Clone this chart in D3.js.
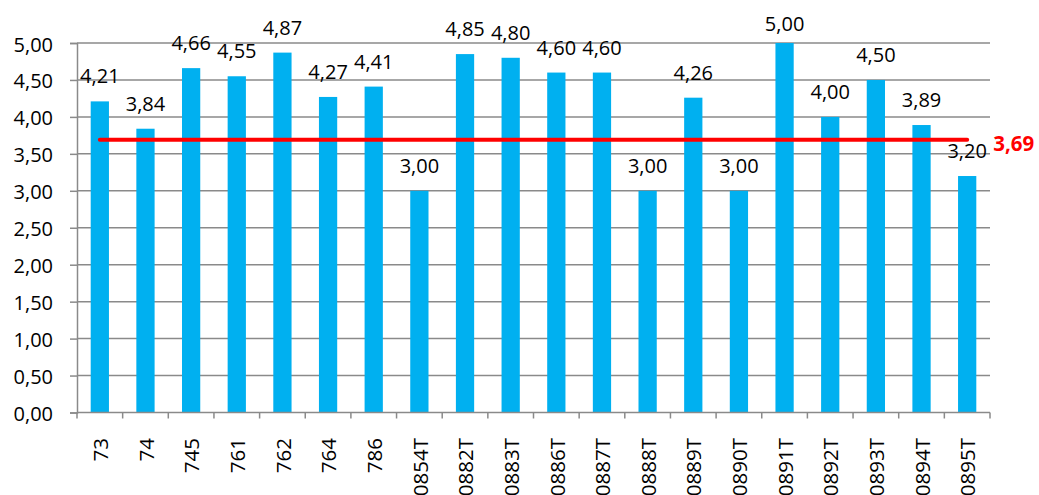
<!DOCTYPE html>
<html>
<head>
<meta charset="utf-8">
<script src="https://cdn.jsdelivr.net/npm/d3@7"></script>
<style>
  html, body { margin: 0; padding: 0; background: #fff; }
  svg { display: block; }
  text { font-family: "Open Sans", "Noto Sans", sans-serif; }
</style>
</head>
<body>
<svg id="chart" width="1039" height="495"></svg>
<script>
const categories = ["73","74","745","761","762","764","786","0854T","0882T","0883T","0886T","0887T","0888T","0889T","0890T","0891T","0892T","0893T","0894T","0895T"];
const values = [4.21,3.84,4.66,4.55,4.87,4.27,4.41,3.00,4.85,4.80,4.60,4.60,3.00,4.26,3.00,5.00,4.00,4.50,3.89,3.20];
const average = 3.69;
const yTicks = [0,0.5,1,1.5,2,2.5,3,3.5,4,4.5,5];

const fmt = v => d3.format(".2f")(v).replace(".", ",");

const svg = d3.select("#chart");
const plotLeft = 77, plotRight = 990, plotTop = 43, plotBottom = 412.5;

const x = d3.scaleBand().domain(categories).range([plotLeft, plotRight]).paddingInner(0.6).paddingOuter(0.3);
const xc = d3.scaleBand().domain(categories).range([plotLeft, plotRight]).padding(0);
const y = d3.scaleLinear().domain([0, 5]).range([plotBottom, plotTop]);

// gridlines
svg.append("g").selectAll("line").data(yTicks.filter(d => d > 0)).join("line")
  .attr("x1", plotLeft).attr("x2", plotRight)
  .attr("y1", d => y(d)).attr("y2", d => y(d))
  .attr("stroke", "#8a8a8a").attr("stroke-width", 1.5);

// y axis
const yAxis = svg.append("g").attr("transform", `translate(${plotLeft},0)`)
  .call(d3.axisLeft(y).tickValues(yTicks).tickFormat(fmt).tickSize(7).tickPadding(17));
yAxis.select(".domain").attr("stroke", "#8a8a8a").attr("stroke-width", 1.5);
yAxis.selectAll(".tick line").attr("stroke", "#8a8a8a").attr("stroke-width", 1.5);
yAxis.selectAll(".tick text").attr("font-size", 20).attr("fill", "#000").attr("dy", "0.4em")
  .style("font-family", '"Open Sans", sans-serif');

// bars
svg.append("g").selectAll("rect").data(values).join("rect")
  .attr("x", (d, i) => x(categories[i]))
  .attr("width", x.bandwidth())
  .attr("y", d => y(d))
  .attr("height", d => y(0) - y(d))
  .attr("fill", "#00B0F0");

// x axis
const xAxis = svg.append("g").attr("transform", `translate(0,${plotBottom})`);
xAxis.append("line").attr("x1", plotLeft).attr("x2", plotRight).attr("y1", 0).attr("y2", 0)
  .attr("stroke", "#8a8a8a").attr("stroke-width", 1.5);
const boundaries = categories.map(c => xc(c)).concat([plotRight]);
xAxis.selectAll("line.tk").data(boundaries).join("line").attr("class", "tk")
  .attr("x1", d => d).attr("x2", d => d).attr("y1", 0).attr("y2", 6)
  .attr("stroke", "#8a8a8a").attr("stroke-width", 1.5);

// x labels
svg.append("g").selectAll("text").data(categories).join("text")
  .attr("transform", d => `translate(${xc(d) + xc.bandwidth() / 2 + 1},438) rotate(-90)`)
  .attr("text-anchor", "end")
  .attr("dy", "0.35em")
  .attr("font-size", 20.5)
  .attr("fill", "#000")
  .text(d => d);

// average line
const lineGen = d3.line().x(d => xc(d) + xc.bandwidth() / 2).y(() => y(average));
svg.append("path").datum(categories)
  .attr("d", lineGen)
  .attr("fill", "none").attr("stroke", "#FF0000").attr("stroke-width", 4).attr("stroke-linecap", "round");

svg.append("text")
  .attr("x", xc(categories[categories.length - 1]) + xc.bandwidth() / 2 + 26)
  .attr("y", y(average) + 11)
  .attr("font-size", 20.5).attr("font-weight", "bold").attr("fill", "#FF0000")
  .text(fmt(average));

// data labels
svg.append("g").selectAll("text").data(values).join("text")
  .attr("x", (d, i) => xc(categories[i]) + xc.bandwidth() / 2)
  .attr("y", d => Math.max(y(d) - 18, 31))
  .attr("text-anchor", "middle")
  .attr("font-size", 20).attr("fill", "#000")
  .text(d => fmt(d));
</script>
</body>
</html>
